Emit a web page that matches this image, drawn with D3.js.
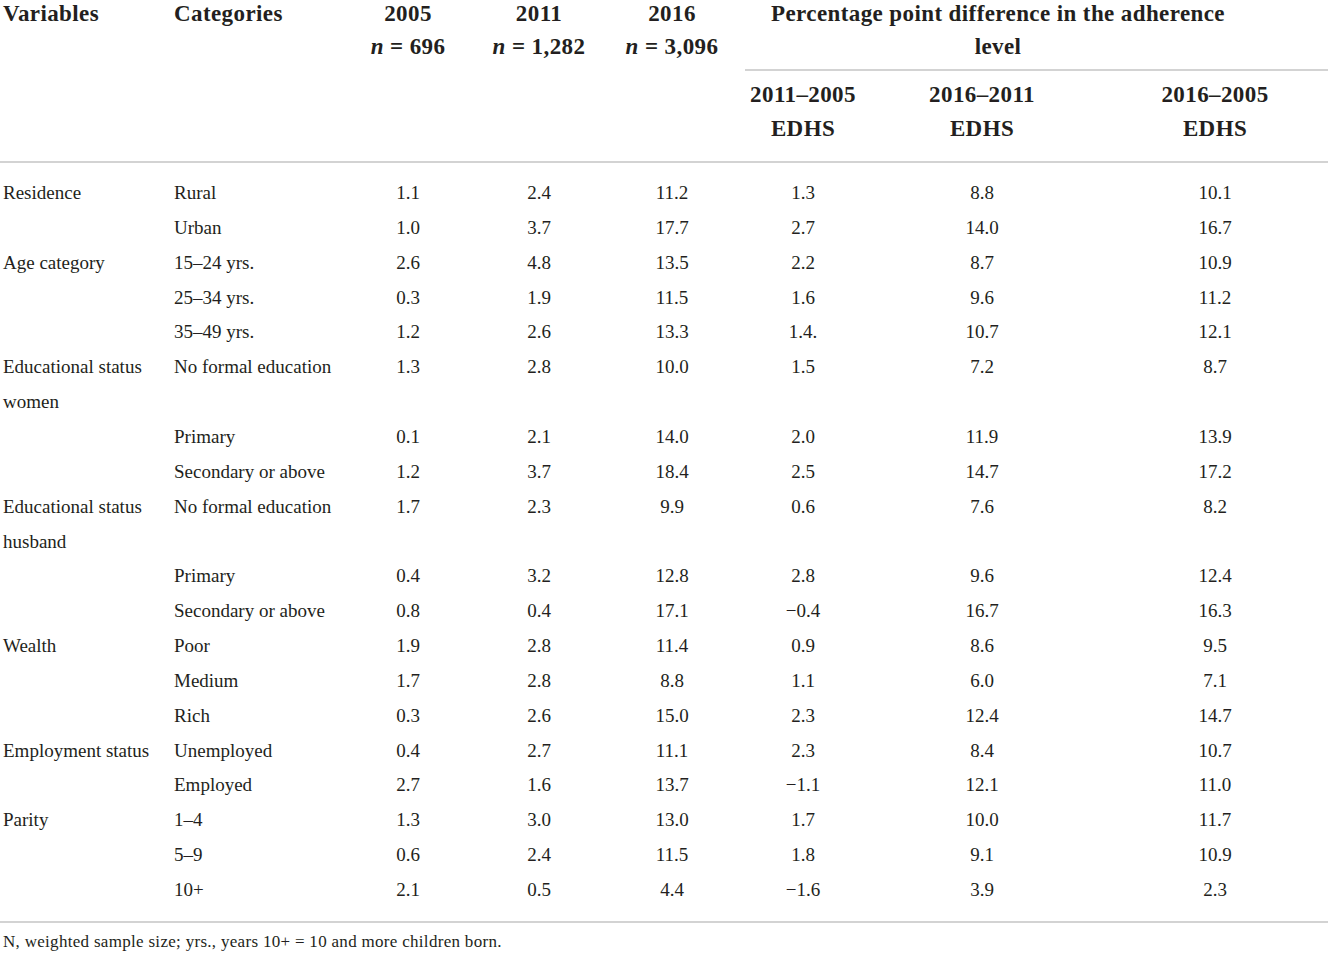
<!DOCTYPE html>
<html><head><meta charset="utf-8">
<script src="https://cdn.jsdelivr.net/npm/d3@7"></script>
<style>
html,body{margin:0;padding:0;background:#fff;}
svg{display:block;}
text{font-family:"Liberation Serif","Times New Roman",serif;fill:#231f20;}
</style></head>
<body>
<svg id="chart" width="1331" height="955"></svg>
<script>
// ---- data ----
const variables = ["Residence","","Age category","","","Educational status|women","","","Educational status|husband","","","Wealth","","","Employment status","","Parity","",""];
const categories = ["Rural","Urban","15–24 yrs.","25–34 yrs.","35–49 yrs.","No formal education","Primary","Secondary or above","No formal education","Primary","Secondary or above","Poor","Medium","Rich","Unemployed","Employed","1–4","5–9","10+"];
const v2005 = ["1.1","1.0","2.6","0.3","1.2","1.3","0.1","1.2","1.7","0.4","0.8","1.9","1.7","0.3","0.4","2.7","1.3","0.6","2.1"];
const v2011 = ["2.4","3.7","4.8","1.9","2.6","2.8","2.1","3.7","2.3","3.2","0.4","2.8","2.8","2.6","2.7","1.6","3.0","2.4","0.5"];
const v2016 = ["11.2","17.7","13.5","11.5","13.3","10.0","14.0","18.4","9.9","12.8","17.1","11.4","8.8","15.0","11.1","13.7","13.0","11.5","4.4"];
const d2011_2005 = ["1.3","2.7","2.2","1.6","1.4.","1.5","2.0","2.5","0.6","2.8","−0.4","0.9","1.1","2.3","2.3","−1.1","1.7","1.8","−1.6"];
const d2016_2011 = ["8.8","14.0","8.7","9.6","10.7","7.2","11.9","14.7","7.6","9.6","16.7","8.6","6.0","12.4","8.4","12.1","10.0","9.1","3.9"];
const d2016_2005 = ["10.1","16.7","10.9","11.2","12.1","8.7","13.9","17.2","8.2","12.4","16.3","9.5","7.1","14.7","10.7","11.0","11.7","10.9","2.3"];
const yearHeaders = ["2005","2011","2016"];
const nHeaders = ["696","1,282","3,096"];
const diffHeaders = ["2011–2005","2016–2011","2016–2005"];
const groupHeader = ["Percentage point difference in the adherence","level"];
const footnote = "N, weighted sample size; yrs., years 10+ = 10 and more children born.";

// ---- layout ----
const svg = d3.select("#chart");
const colKeys = ["y2005","y2011","y2016","d1","d2","d3"];
const colX = d3.scaleOrdinal().domain(colKeys).range([408,539,672,803,982,1215]);
const series = [v2005,v2011,v2016,d2011_2005,d2016_2011,d2016_2005];

// line index of each row (rows with wrapped variable label take two lines)
const lineIdx = [];
let li = 0;
variables.forEach((v,i)=>{ lineIdx.push(li); li += v.includes("|") ? 2 : 1; });
const totalLines = li;
const y = d3.scaleLinear().domain([0,totalLines-1]).range([199,896]);

const lineColor = "#c4c4c4";
function hline(x1,x2,yy){
  svg.append("line").attr("x1",x1).attr("x2",x2).attr("y1",yy).attr("y2",yy)
    .attr("stroke",lineColor).attr("stroke-width",1.6);
}

// header
const hdr = svg.append("g").attr("font-weight","bold").attr("font-size",23).attr("letter-spacing",0.4);
hdr.append("text").attr("x",3).attr("y",21).text("Variables");
hdr.append("text").attr("x",174).attr("y",21).text("Categories");
yearHeaders.forEach((t,i)=>{
  hdr.append("text").attr("x",colX(colKeys[i])).attr("y",21).attr("text-anchor","middle").text(t);
  const n = hdr.append("text").attr("x",colX(colKeys[i])).attr("y",54).attr("text-anchor","middle");
  n.append("tspan").attr("font-style","italic").text("n");
  n.append("tspan").text(" = " + nHeaders[i]);
});
groupHeader.forEach((t,i)=>{
  hdr.append("text").attr("x",998).attr("y",21+i*33).attr("text-anchor","middle").text(t);
});
diffHeaders.forEach((t,i)=>{
  hdr.append("text").attr("x",colX(colKeys[3+i])).attr("y",102).attr("text-anchor","middle").text(t);
  hdr.append("text").attr("x",colX(colKeys[3+i])).attr("y",136).attr("text-anchor","middle").text("EDHS");
});
hline(745,1328,70);
hline(0,1328,162);

// body
const body = svg.append("g").attr("font-size",19);
variables.forEach((v,i)=>{
  if(!v) return;
  v.split("|").forEach((part,k)=>{
    body.append("text").attr("x",3).attr("y",y(lineIdx[i]+k)).text(part);
  });
});
categories.forEach((c,i)=>{
  body.append("text").attr("x",174).attr("y",y(lineIdx[i])).text(c);
});
series.forEach((s,j)=>{
  s.forEach((val,i)=>{
    body.append("text").attr("x",colX(colKeys[j])).attr("y",y(lineIdx[i]))
      .attr("text-anchor","middle").text(val);
  });
});

hline(0,1328,922);
svg.append("text").attr("x",3).attr("y",947).attr("font-size",17).attr("letter-spacing",0.3).text(footnote);
</script>
</body></html>
